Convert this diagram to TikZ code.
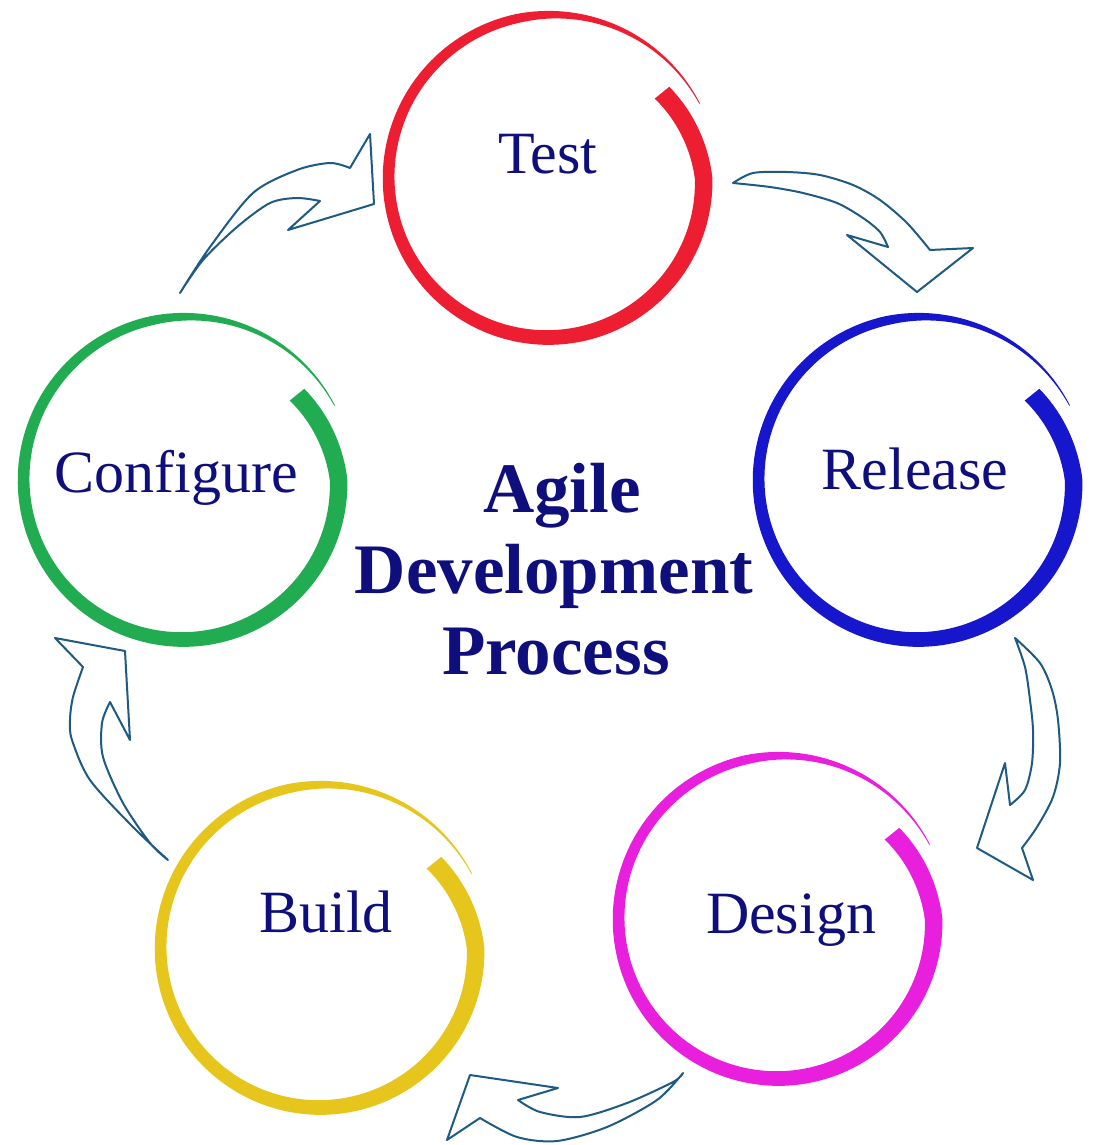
\documentclass[tikz,border=0pt]{standalone}
\usepackage{fontspec}
\setmainfont{Liberation Serif}
\definecolor{navy}{RGB}{14,14,125}
\definecolor{arrowc}{RGB}{30,90,130}
\definecolor{cred}{RGB}{237,30,50}
\definecolor{cblue}{RGB}{22,22,205}
\definecolor{cgreen}{RGB}{34,172,82}
\definecolor{cyellow}{RGB}{230,198,28}
\definecolor{cmag}{RGB}{232,32,222}
\newcommand{\brushring}[3]{%
  \begin{scope}[shift={(#1,#2)}]
    \fill[#3] plot[domain=0:1,samples=180] ({ba(\x)}:{br(\x)+0.5*bw(\x)})
      -- plot[domain=1:0,samples=180] ({ba(\x)}:{br(\x)-0.5*bw(\x)}) -- cycle;
  \end{scope}}
\begin{document}
\begin{tikzpicture}[x=1pt,y=-1pt,
  declare function={bw(\x)=(18-12*\x)*min(1,(1-\x)/0.2)+0.8;
                    br(\x)=152+16*\x-10*max(0,1-\x/0.1);
                    ba(\x)=-38+371*\x;},
  lbl/.style={text=navy,font=\fontsize{60}{72}\selectfont,anchor=base,inner sep=0pt},
  ttl/.style={text=navy,font=\fontsize{71}{81}\selectfont\bfseries,anchor=base,inner sep=0pt},
  arr/.style={draw=arrowc,line width=2pt,line join=round}]
\useasboundingbox (0,0) rectangle (1092,1145);
\fill[white] (0,0) rectangle (1092,1145);

% brush rings
\brushring{550}{180}{cred}
\brushring{920}{482}{cblue}
\brushring{185}{482}{cgreen}
\brushring{322}{950}{cyellow}
\brushring{780}{921}{cmag}

% labels
\node[lbl] (test) at (548,173) {Test};
\node[lbl] (release) at (915,489) {Release};
\node[lbl] (configure) at (176,492) {Configure};
\node[lbl] (build) at (326,932) {Build};
\node[lbl] (design) at (791,933) {Design};

\node[ttl] (t1) at (562,512) {Agile};
\node[ttl] (t2) at (554,593) {Development};
\node[ttl] (t3) at (556,674) {Process};

% arrow Configure -> Test
\draw[arr] plot[smooth] coordinates {(180,293) (210,247) (253,193) (297,170) (330,163) (350,168)}
  -- (370,134) -- (374,204) -- (288,230) -- (320,201)
  -- plot[smooth] coordinates {(320,201) (297,198) (270,203) (237,227) (203,260) (180,293)} -- cycle;
% arrow Test -> Release
\draw[arr] plot[smooth] coordinates {(733,183) (753,173) (787,172) (820,175) (853,185) (880,200) (907,223) (930,250)}
  -- (973,248) -- (917,292) -- (847,235) -- (888,247)
  -- plot[smooth] coordinates {(888,247) (880,232) (863,218) (837,203) (803,193) (770,187) (733,183)} -- cycle;
% arrow Release -> Design
\draw[arr] plot[smooth] coordinates {(1015,638) (1040,663) (1052,690) (1058,720) (1060,763) (1053,797) (1037,827) (1022,848)}
  -- (1033,880) -- (977,848) -- (1005,763) -- (1010,805)
  -- plot[smooth] coordinates {(1010,805) (1025,790) (1032,763) (1033,730) (1030,700) (1025,667) (1015,638)} -- cycle;
% arrow Design -> Build
\draw[arr] plot[smooth] coordinates {(683,1073) (657,1100) (607,1127) (557,1141) (517,1137) (480,1118)}
  -- (447,1140) -- (470,1075) -- (558,1088) -- (518,1100)
  -- plot[smooth] coordinates {(518,1100) (540,1112) (580,1117) (627,1103) (673,1082) (683,1073)} -- cycle;
% arrow Build -> Configure
\draw[arr] plot[smooth] coordinates {(168,860) (133,827) (90,780) (72,740) (70,720) (73,697) (83,667)}
  -- (55,638) -- (125,651) -- (130,740) -- (110,702)
  -- plot[smooth] coordinates {(110,702) (102,723) (103,757) (123,803) (150,843) (168,860)} -- cycle;
\end{tikzpicture}
\end{document}
